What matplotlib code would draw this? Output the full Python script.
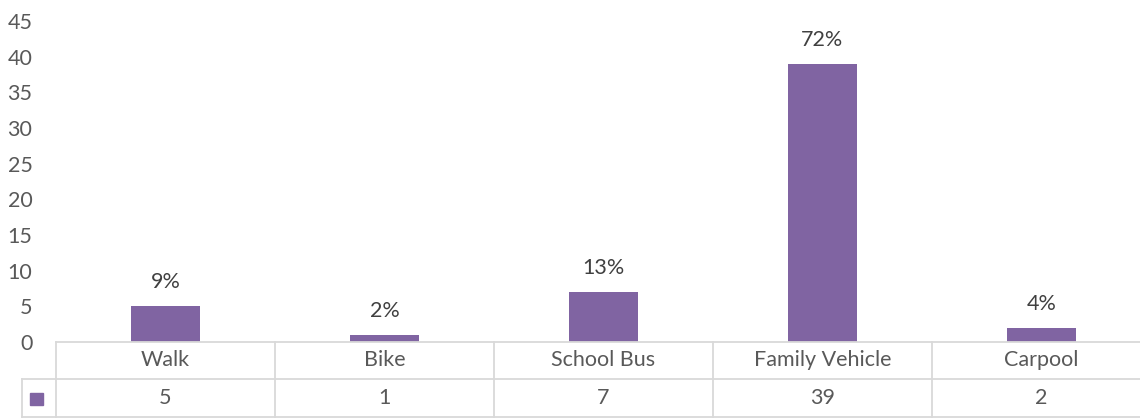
import matplotlib.pyplot as plt
import matplotlib.transforms as mtransforms
from matplotlib.patches import Rectangle

plt.rcParams['font.family'] = ['Lato', 'DejaVu Sans']

categories = ['Walk', 'Bike', 'School Bus', 'Family Vehicle', 'Carpool']
counts = [5, 1, 7, 39, 2]
pct_labels = ['9%', '2%', '13%', '72%', '4%']
yticks = [0, 5, 10, 15, 20, 25, 30, 35, 40, 45]

W, H = 1140, 418
bar_col = '#8064A2'
txt_col = '#595959'
grid_col = '#D9D9D9'
fs = 15.5

fig = plt.figure(figsize=(W / 100, H / 100), dpi=100)
# plot area: x 56..1151 px (cut at the right), y 21..342 px
ax = fig.add_axes([56 / W, (H - 342) / H, 1095 / W, 321 / H])

x = list(range(len(categories)))
ax.bar(x, counts, width=0.315, color=bar_col, zorder=2)
for xi, c, lab in zip(x, counts, pct_labels):
    ax.annotate(lab, (xi, c), xytext=(0, 10), textcoords='offset points',
                ha='center', va='bottom', fontsize=fs, color='#404040')

ax.set_xlim(-0.5, len(categories) - 0.5)
ax.set_ylim(0, 45)
ax.set_yticks(yticks)
ax.set_xticks([])
ax.tick_params(axis='y', length=0, pad=17, labelsize=fs, labelcolor=txt_col)
for s in ax.spines.values():
    s.set_visible(False)

# data table under the chart
tr = mtransforms.blended_transform_factory(ax.transData, ax.transAxes)
h = 321.0
y_top, y_mid, y_bot = 0.0, -37 / h, -75 / h
x_out = -0.5 - 34 / 219.0
x_end = len(categories) - 0.5
lw = 1.3
ax.plot([-0.5, x_end], [y_top, y_top], transform=tr, color=grid_col, lw=lw, clip_on=False)
ax.plot([x_out, x_end], [y_mid, y_mid], transform=tr, color=grid_col, lw=lw, clip_on=False)
ax.plot([x_out, x_end], [y_bot, y_bot], transform=tr, color=grid_col, lw=lw, clip_on=False)
ax.plot([x_out, x_out], [y_mid, y_bot], transform=tr, color=grid_col, lw=lw, clip_on=False)
for b in range(len(categories) + 1):
    ax.plot([b - 0.5, b - 0.5], [y_top, y_bot], transform=tr, color=grid_col, lw=lw, clip_on=False)

for xi, cat, c in zip(x, categories, counts):
    ax.text(xi, (y_top + y_mid) / 2, cat, transform=tr, ha='center', va='center',
            fontsize=fs, color=txt_col)
    ax.text(xi, (y_mid + y_bot) / 2, str(c), transform=tr, ha='center', va='center',
            fontsize=fs, color=txt_col)

# legend key in the first column
fig.patches.append(Rectangle((30 / W, (H - 405) / H), 13 / W, 12 / H,
                             transform=fig.transFigure, color=bar_col))

fig.savefig('out.png', dpi=100)
